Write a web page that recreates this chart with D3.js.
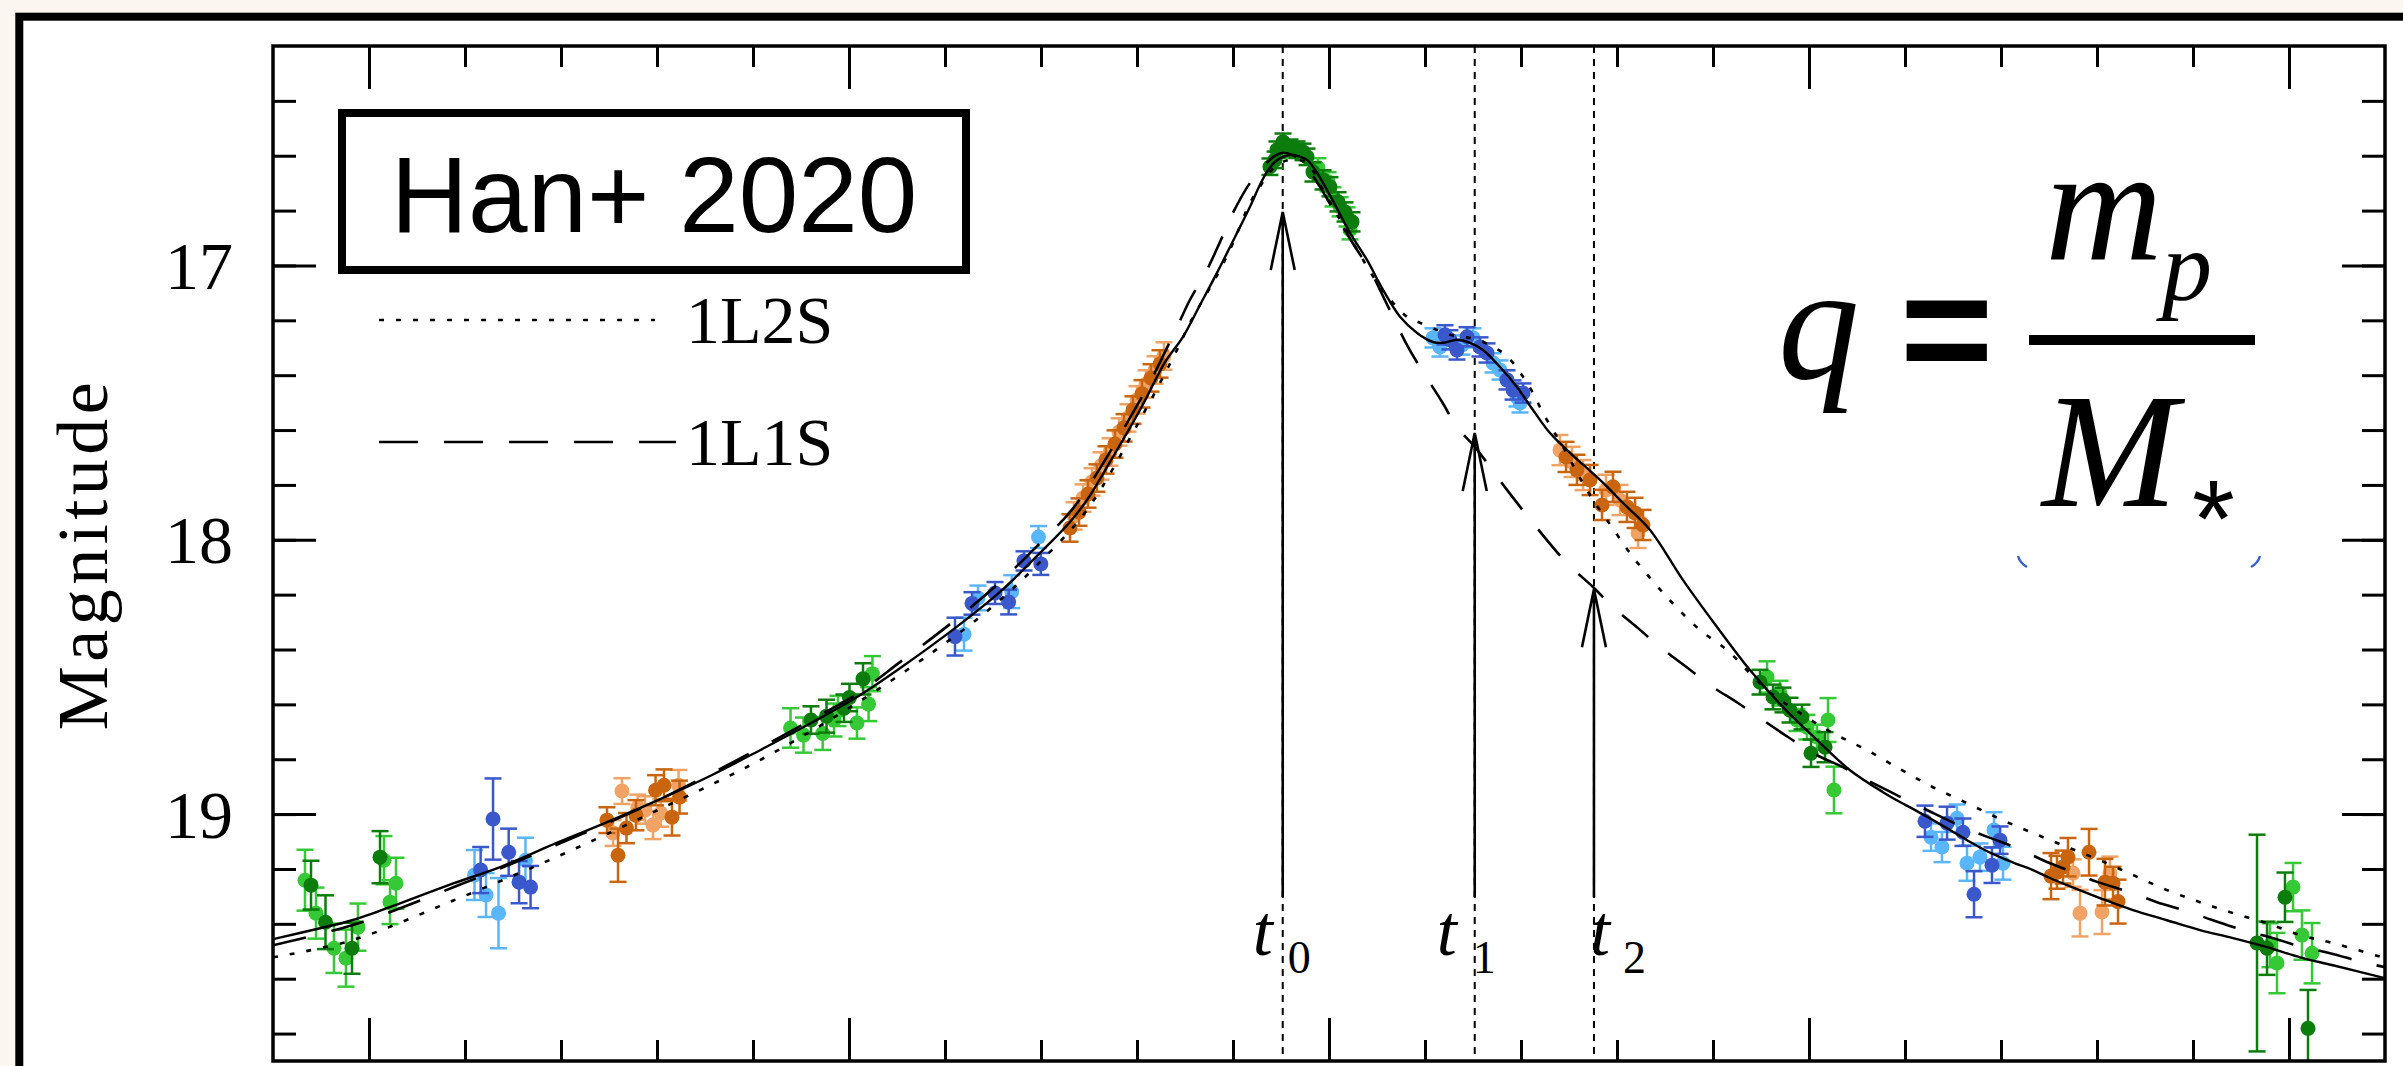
<!DOCTYPE html>
<html><head><meta charset="utf-8">
<script src="https://cdn.jsdelivr.net/npm/d3@7"></script>
<style>html,body{margin:0;padding:0;background:#fbf7f0;overflow:hidden}</style>
</head><body><svg id="c" width="2403" height="1066"></svg>
<script>
// ---------------- DATA (time in days, magnitude) ----------------
const xMajorTicks = [10, 15, 20, 25, 30];
const xMinorTicks = d3.range(10, 31);
const yMajorTicks = [17, 18, 19];
const yMinorTicks = d3.range(82, 100).map(v => v / 5);

const legendNames = ["1L2S", "1L1S"];
const annotationTitle = "Han+ 2020";
const markerTimes = [19.518, 21.518, 22.760];
const markerTips = [16.805, 17.611, 18.180];
const markerSubs = ["0", "1", "2"];
const markerBase = 19.302;

// observations [t, mag, err]
const greenDark = [[9.396,19.259,.089],[9.547,19.394,.098],[9.823,19.489,.093],[10.115,19.157,.095],
 [14.604,18.657,.05],[14.766,18.643,.06],[14.948,18.614,.05],[15.146,18.507,.057],[15.005,18.575,.05],
 [19.385,16.640,.03],[19.438,16.615,.03],[19.458,16.578,.03],[19.521,16.549,.03],[19.594,16.571,.03],[19.667,16.578,.03],
 [19.729,16.586,.03],[19.771,16.604,.03],[19.833,16.659,.035],[19.938,16.688,.035],[20.010,16.713,.035],[20.094,16.768,.035],
 [20.167,16.805,.035],[20.240,16.841,.035],
 [24.490,18.519,.045],[24.625,18.573,.045],[24.729,18.584,.045],[24.802,18.621,.045],[24.927,18.646,.045],[25.167,18.756,.055],[25.021,18.778,.05],
 [29.667,19.470,.395],[29.771,19.489,.097],[29.958,19.303,.09],[30.198,19.781,.14]];
const greenLight = [[9.333,19.241,.111],[9.448,19.361,.093],[9.635,19.489,.09],[9.760,19.525,.104],[9.885,19.412,.086],
 [10.156,19.168,.088],[10.281,19.252,.093],[10.219,19.321,.08],
 [14.391,18.686,.072],[14.526,18.712,.064],[14.726,18.706,.06],[14.885,18.624,.055],[15.083,18.668,.057],[15.204,18.599,.062],
 [15.244,18.488,.064],[14.844,18.657,.06],
 [19.573,16.578,.03],[19.885,16.644,.035],[19.990,16.695,.035],[20.042,16.750,.035],[20.115,16.786,.035],[20.188,16.823,.035],[20.219,16.870,.035],
 [24.563,18.500,.057],[24.698,18.559,.045],[24.875,18.657,.04],[24.979,18.683,.045],[25.198,18.657,.08],[25.083,18.719,.045],[25.260,18.912,.085],
 [29.802,19.478,.08],[29.875,19.543,.11],[30.042,19.266,.088],[30.135,19.441,.09],[30.240,19.507,.11]];
const blueDark = [[11.163,19.204,.084],[11.292,19.018,.148],[11.455,19.139,.086],[11.563,19.248,.077],[11.683,19.266,.077],
 [16.104,18.353,.069],[16.281,18.232,.041],[16.521,18.194,.04],[16.663,18.227,.045],[16.823,18.077,.035],[16.998,18.088,.04],
 [21.260,17.271,.035],[21.333,17.308,.035],[21.438,17.260,.035],[21.573,17.297,.035],[21.646,17.319,.035],[21.854,17.417,.035],
 [21.917,17.454,.035],[22.021,17.465,.035],[21.208,17.253,.035],
 [26.208,19.026,.057],[26.438,19.033,.06],[26.604,19.066,.05],[26.719,19.292,.084],[26.906,19.186,.065],[26.990,19.095,.05]];
const blueLight = [[11.099,19.222,.091],[11.219,19.295,.08],[11.349,19.361,.128],[11.630,19.168,.082],
 [16.198,18.344,.06],[16.344,18.212,.045],[16.695,18.189,.06],[16.974,17.990,.04],
 [21.083,17.264,.035],[21.156,17.297,.035],[21.500,17.264,.035],[21.708,17.355,.035],[21.781,17.381,.035],[21.958,17.479,.035],
 [21.990,17.501,.035],[21.385,17.290,.035],
 [26.271,19.084,.05],[26.385,19.120,.055],[26.542,19.015,.05],[26.646,19.179,.064],[26.781,19.157,.05],[26.927,19.058,.065],[27.021,19.179,.06]];
const orangeDark = [[12.479,19.022,.047],[12.594,19.150,.097],[12.682,19.051,.055],[12.781,19.004,.055],[12.985,18.913,.055],
 [13.073,18.895,.058],[13.156,19.011,.067],[13.235,18.938,.06],
 [17.302,17.957,.05],[17.396,17.899,.05],[17.490,17.833,.05],[17.583,17.775,.05],[17.677,17.709,.05],[17.771,17.651,.05],
 [17.865,17.592,.05],[17.958,17.527,.05],[18.052,17.468,.05],[18.146,17.410,.05],[18.240,17.359,.05],
 [22.469,17.698,.055],[22.583,17.745,.055],[22.719,17.782,.055],[22.844,17.873,.055],[22.958,17.807,.055],[23.104,17.880,.055],
 [23.188,17.902,.055],[23.271,17.946,.055],
 [27.521,19.226,.084],[27.583,19.212,.06],[27.646,19.193,.06],[27.698,19.157,.07],[27.917,19.139,.085],[28.083,19.248,.085],
 [28.167,19.252,.06],[28.219,19.319,.08]];
const orangeLight = [[12.635,18.916,.047],[12.542,19.069,.047],[12.800,18.975,.046],[12.958,19.040,.051],[13.039,18.996,.05],
 [13.225,18.895,.056],[12.875,18.985,.05],
 [17.344,17.913,.05],[17.438,17.848,.05],[17.531,17.789,.05],[17.625,17.731,.05],[17.719,17.680,.05],[17.813,17.607,.05],
 [17.906,17.556,.05],[18.000,17.490,.05],[18.094,17.432,.05],[18.188,17.381,.05],[18.281,17.330,.05],
 [22.406,17.673,.055],[22.531,17.716,.055],[22.646,17.764,.055],[22.885,17.818,.055],[23.031,17.855,.055],[23.219,17.975,.055],
 [27.750,19.215,.05],[27.823,19.361,.085],[28.052,19.357,.08],[28.135,19.215,.06]];

// model curves [t, mag]
const modelBest = [[9.000,19.456],[9.490,19.416],[9.823,19.387],[10.323,19.325],[10.885,19.252],[11.365,19.193],[11.948,19.106],
 [12.406,19.040],[13.010,18.949],[13.552,18.861],[14.073,18.767],[14.604,18.668],[15.083,18.573],[15.531,18.468],[16.104,18.322],
 [16.573,18.190],[16.990,18.048],[17.302,17.935],[17.479,17.855],[17.719,17.716],[18.031,17.527],[18.292,17.352],[18.479,17.260],
 [18.656,17.144],[18.833,17.027],[19.021,16.896],[19.177,16.786],[19.281,16.706],[19.354,16.659],[19.438,16.622],[19.521,16.604],
 [19.625,16.597],[19.698,16.604],[19.771,16.615],[19.854,16.651],[19.938,16.699],[20.063,16.779],[20.219,16.881],[20.396,16.980],
 [20.563,17.089],[20.740,17.187],[20.917,17.246],[21.083,17.279],[21.188,17.282],[21.333,17.271],[21.469,17.282],[21.604,17.308],
 [21.781,17.370],[21.958,17.443],[22.125,17.527],[22.302,17.611],[22.510,17.683],[22.823,17.782],[23.083,17.873],[23.344,17.964],
 [23.688,18.147],[24.042,18.318],[24.385,18.475],[24.729,18.610],[25.083,18.730],[25.427,18.840],[25.771,18.920],[25.948,18.956],
 [26.125,18.989],[26.292,19.022],[26.469,19.058],[26.646,19.095],[26.813,19.128],[26.990,19.157],[27.167,19.182],[27.333,19.204],
 [27.510,19.233],[27.688,19.259],[28.031,19.306],[28.375,19.350],[28.729,19.387],[29.073,19.423],[29.417,19.452],[29.771,19.485],
 [30.115,19.522],[30.458,19.551],[31.000,19.598]];
const model1L1S = [[9.000,19.478],[9.823,19.405],[10.885,19.266],[11.948,19.113],[13.010,18.949],[14.073,18.759],[14.604,18.657],
 [15.083,18.562],[15.531,18.446],[16.104,18.293],[16.573,18.154],[16.990,18.012],[17.302,17.899],[17.510,17.797],[17.823,17.618],
 [18.135,17.425],[18.417,17.224],[18.552,17.125],[18.729,17.016],[18.865,16.914],[19.000,16.808],[19.177,16.699],[19.313,16.640],
 [19.438,16.600],[19.521,16.589],[19.615,16.597],[19.698,16.615],[19.802,16.659],[19.938,16.732],[20.115,16.841],[20.271,16.932],
 [20.427,17.016],[20.531,17.089],[20.667,17.187],[20.823,17.297],[20.979,17.388],[21.177,17.497],[21.333,17.589],[21.521,17.662],
 [21.854,17.818],[22.167,17.957],[22.479,18.085],[22.750,18.172],[22.958,18.245],[23.219,18.322],[23.448,18.391],[23.740,18.468],
 [23.969,18.530],[24.260,18.595],[24.490,18.650],[24.781,18.719],[25.042,18.778],[25.354,18.829],[25.604,18.876],[26.021,18.949],
 [26.292,18.996],[26.604,19.047],[26.865,19.084],[27.167,19.124],[27.438,19.168],[27.750,19.212],[28.010,19.248],[28.344,19.285],
 [28.625,19.321],[28.938,19.354],[29.208,19.387],[29.521,19.423],[29.802,19.449],[30.146,19.485],[30.427,19.507],[30.771,19.540],
 [31.000,19.558]];
const model1L2S = [[9.000,19.522],[9.823,19.460],[10.885,19.314],[11.948,19.157],[13.010,18.985],[14.073,18.803],[15.083,18.595],
 [16.104,18.351],[16.573,18.220],[16.990,18.081],[17.479,17.891],[18.031,17.563],[18.417,17.308],[18.552,17.209],[18.729,17.100],
 [18.865,17.016],[19.000,16.918],[19.177,16.772],[19.281,16.713],[19.385,16.659],[19.521,16.622],[19.625,16.615],[19.771,16.626],
 [19.906,16.706],[20.115,16.834],[20.323,16.961],[20.531,17.078],[20.667,17.136],[20.813,17.187],[20.948,17.209],[21.125,17.235],
 [21.260,17.253],[21.396,17.260],[21.552,17.271],[21.708,17.297],[21.813,17.319],[21.917,17.355],[22.021,17.406],[22.125,17.465],
 [22.229,17.538],[22.333,17.600],[22.438,17.662],[22.615,17.775],[22.750,17.855],[22.896,17.928],[23.167,18.063],[23.521,18.209],
 [23.865,18.329],[24.146,18.402],[24.563,18.548],[24.906,18.632],[25.250,18.705],[25.604,18.767],[25.948,18.836],[26.292,18.902],
 [26.646,18.960],[26.990,19.018],[27.333,19.069],[27.688,19.120],[28.031,19.168],[28.375,19.222],[28.729,19.277],[29.073,19.321],
 [29.417,19.361],[29.771,19.398],[30.115,19.441],[30.458,19.470],[31.000,19.525]];

// ---------------- DRAWING ----------------
const svg = d3.select("#c");
const serif = "'Liberation Serif', 'Times New Roman', serif";
const sans = "'Liberation Sans', Arial, sans-serif";
const M = {left: 273, right: 2385, top: 46, bottom: 1061};
const x = d3.scaleLinear().domain([9, 31]).range([M.left, M.right]);
const y = d3.scaleLinear().domain([16.2, 19.9]).range([M.top, M.bottom]);

// page + outer frame
svg.append("rect").attr("width", 2403).attr("height", 1066).attr("fill", "#fbf7f0");
svg.append("rect").attr("x", 19.3).attr("y", 16.7).attr("width", 2500).attr("height", 1200)
  .attr("fill", "#ffffff").attr("stroke", "#000").attr("stroke-width", 8);

svg.append("defs").append("clipPath").attr("id", "clip")
  .append("rect").attr("x", M.left).attr("y", M.top).attr("width", M.right - M.left).attr("height", M.bottom - M.top);

// vertical dotted marker lines
const gMark = svg.append("g");
gMark.selectAll("line.v").data(markerTimes).join("line")
  .attr("x1", d => x(d)).attr("x2", d => x(d)).attr("y1", M.top).attr("y2", M.bottom)
  .attr("stroke", "#000").attr("stroke-width", 2).attr("stroke-dasharray", "7,6");

// data points
const gPts = svg.append("g").attr("clip-path", "url(#clip)");
const series = [
  {d: greenLight, c: "#36c936"}, {d: blueLight, c: "#5ab6fa"}, {d: orangeLight, c: "#f0a365"},
  {d: greenDark, c: "#0c7c0c"}, {d: blueDark, c: "#3a58cc"}, {d: orangeDark, c: "#c9650f"}
];
const cap = 8.5;
series.forEach(s => {
  const g = gPts.append("g").attr("stroke", s.c).attr("fill", s.c).attr("stroke-width", 2.5);
  const eb = g.selectAll("g.e").data(s.d).join("g");
  eb.append("line").attr("x1", d => x(d[0])).attr("x2", d => x(d[0]))
    .attr("y1", d => y(d[1] - d[2])).attr("y2", d => y(d[1] + d[2]));
  eb.append("line").attr("x1", d => x(d[0]) - cap).attr("x2", d => x(d[0]) + cap)
    .attr("y1", d => y(d[1] - d[2])).attr("y2", d => y(d[1] - d[2]));
  eb.append("line").attr("x1", d => x(d[0]) - cap).attr("x2", d => x(d[0]) + cap)
    .attr("y1", d => y(d[1] + d[2])).attr("y2", d => y(d[1] + d[2]));
  eb.append("circle").attr("cx", d => x(d[0])).attr("cy", d => y(d[1])).attr("r", 7.5).attr("stroke", "none");
});

// model curves
const line = d3.line().x(d => x(d[0])).y(d => y(d[1])).curve(d3.curveCatmullRom.alpha(0.5));
const gCurves = svg.append("g").attr("clip-path", "url(#clip)").attr("fill", "none").attr("stroke", "#000");
gCurves.append("path").attr("d", line(model1L1S)).attr("stroke-width", 2.6).attr("stroke-dasharray", "34,26");
gCurves.append("path").attr("d", line(model1L2S)).attr("stroke-width", 2.6).attr("stroke-dasharray", "5,12");
gCurves.append("path").attr("d", line(modelBest)).attr("stroke-width", 2.4);

// arrows
markerTimes.forEach((t, i) => {
  const xp = x(t), tip = y(markerTips[i]);
  gMark.append("path")
    .attr("d", `M${xp},${y(markerBase)}L${xp},${tip}M${xp - 12},${tip + 58}L${xp},${tip}L${xp + 12},${tip + 58}`)
    .attr("fill", "none").attr("stroke", "#000").attr("stroke-width", 2.6);
});
// marker labels
const tOff = [-30, -38, -4], sOff = [5, -2, 29];
markerTimes.forEach((t, i) => {
  const xp = x(t);
  svg.append("text").attr("x", xp + tOff[i]).attr("y", 955).attr("font-family", serif)
    .attr("font-style", "italic").attr("font-size", 72).text("t");
  svg.append("text").attr("x", xp + sOff[i]).attr("y", 973).attr("font-family", serif)
    .attr("font-size", 46).text(markerSubs[i]);
});

// axes (ticks inward)
const gAx = svg.append("g");
function styleAxis(g) {
  g.select(".domain").remove();
  g.selectAll(".tick line").attr("stroke", "#000").attr("stroke-width", 3);
}
gAx.append("g").attr("transform", `translate(0,${M.bottom})`)
  .call(d3.axisBottom(x).tickValues(xMinorTicks).tickSize(-21).tickFormat("")).call(styleAxis);
gAx.append("g").attr("transform", `translate(0,${M.bottom})`)
  .call(d3.axisBottom(x).tickValues(xMajorTicks).tickSize(-43).tickFormat("")).call(styleAxis);
gAx.append("g").attr("transform", `translate(0,${M.top})`)
  .call(d3.axisTop(x).tickValues(xMinorTicks).tickSize(-21).tickFormat("")).call(styleAxis);
gAx.append("g").attr("transform", `translate(0,${M.top})`)
  .call(d3.axisTop(x).tickValues(xMajorTicks).tickSize(-43).tickFormat("")).call(styleAxis);
gAx.append("g").attr("transform", `translate(${M.left},0)`)
  .call(d3.axisLeft(y).tickValues(yMinorTicks).tickSize(-23).tickFormat("")).call(styleAxis);
gAx.append("g").attr("transform", `translate(${M.left},0)`)
  .call(d3.axisLeft(y).tickValues(yMajorTicks).tickSize(-43).tickPadding(40).tickFormat(d3.format("d")))
  .call(styleAxis)
  .call(g => g.selectAll(".tick text").attr("font-family", serif).attr("font-size", 68)
    .attr("fill", "#000").attr("dy", "0.34em"));
gAx.append("g").attr("transform", `translate(${M.right},0)`)
  .call(d3.axisRight(y).tickValues(yMinorTicks).tickSize(-23).tickFormat("")).call(styleAxis);
gAx.append("g").attr("transform", `translate(${M.right},0)`)
  .call(d3.axisRight(y).tickValues(yMajorTicks).tickSize(-43).tickFormat("")).call(styleAxis);
gAx.append("rect").attr("x", M.left).attr("y", M.top).attr("width", M.right - M.left)
  .attr("height", M.bottom - M.top).attr("fill", "none").attr("stroke", "#000").attr("stroke-width", 3.5);

// y label
svg.append("text").attr("transform", `translate(107,554) rotate(-90)`).attr("text-anchor", "middle")
  .attr("font-family", serif).attr("font-size", 72).attr("letter-spacing", 4.5).text("Magnitude");

// legend
const gLeg = svg.append("g");
gLeg.append("line").attr("x1", 379).attr("x2", 655).attr("y1", 320).attr("y2", 320)
  .attr("stroke", "#000").attr("stroke-width", 2.6).attr("stroke-dasharray", "5,12");
gLeg.append("line").attr("x1", 379).attr("x2", 676).attr("y1", 442).attr("y2", 442)
  .attr("stroke", "#000").attr("stroke-width", 2.6).attr("stroke-dasharray", "39,26");
gLeg.selectAll("text").data(legendNames).join("text")
  .attr("x", 686).attr("y", (d, i) => 343 + i * 122).attr("font-family", serif).attr("font-size", 68).text(d => d);

// title box
svg.append("rect").attr("x", 342).attr("y", 113).attr("width", 624).attr("height", 157)
  .attr("fill", "#fff").attr("stroke", "#000").attr("stroke-width", 8);
svg.append("text").attr("x", 654).attr("y", 232).attr("text-anchor", "middle")
  .attr("font-family", sans).attr("font-size", 107).text(annotationTitle);

// formula q = m_p / M_*
const gF = svg.append("g").attr("font-family", serif).attr("font-style", "italic");
gF.append("text").attr("x", 1778).attr("y", 378).attr("font-size", 163).text("q");
gF.append("text").attr("x", 2045).attr("y", 260).attr("font-size", 163).text("m");
gF.append("text").attr("x", 2162).attr("y", 300).attr("font-size", 100).text("p");
gF.append("text").attr("x", 2042).attr("y", 506).attr("font-size", 163).text("M");
svg.append("text").attr("x", 1900).attr("y", 384).attr("font-family", sans).attr("font-weight", "bold")
  .attr("font-size", 160).text("=");
svg.append("text").attr("x", 2192).attr("y", 556).attr("font-family", sans).attr("font-size", 110).text("*");
svg.append("rect").attr("x", 2029).attr("y", 335).attr("width", 226).attr("height", 10).attr("fill", "#000");
svg.append("path").attr("d", "M2018,556Q2020,563 2027,567M2260,556Q2258,563 2251,567")
  .attr("fill", "none").attr("stroke", "#3d5fd6").attr("stroke-width", 2.5);
</script></body></html>
